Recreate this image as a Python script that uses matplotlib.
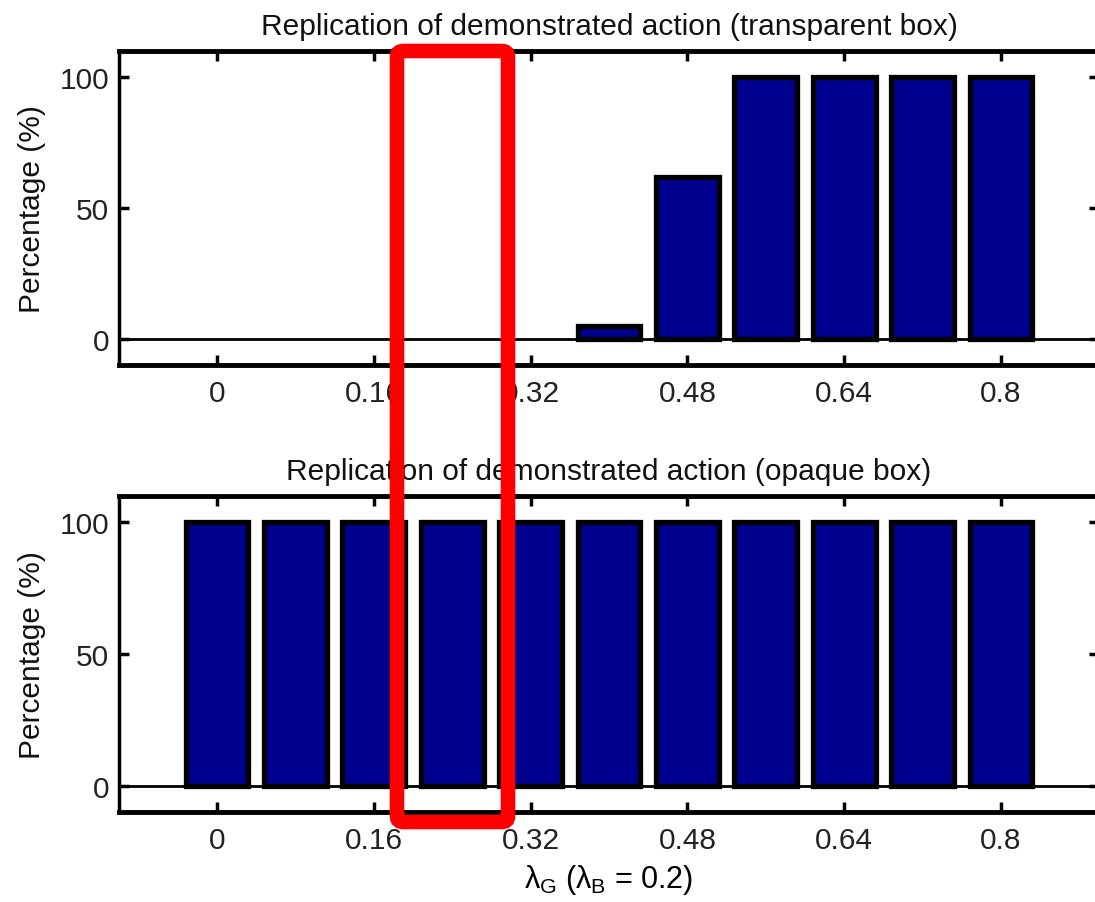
import matplotlib
matplotlib.use("Agg")
import matplotlib.pyplot as plt
from matplotlib.patches import FancyBboxPatch

plt.rcParams["font.family"] = ["Liberation Sans", "DejaVu Sans"]
plt.rcParams["mathtext.fontset"] = "custom"
plt.rcParams["mathtext.rm"] = "Liberation Sans"
plt.rcParams["mathtext.it"] = "Liberation Sans"

# lambda_G values (x axis), lambda_B fixed at 0.2
lambda_g = [0.0, 0.08, 0.16, 0.24, 0.32, 0.40, 0.48, 0.56, 0.64, 0.72, 0.80]
tick_values = [0, 0.16, 0.32, 0.48, 0.64, 0.8]
tick_labels = ["0", "0.16", "0.32", "0.48", "0.64", "0.8"]

# percentage of replication of the demonstrated action
transparent_pct = [0, 0, 0, 0, 0, 5, 62, 100, 100, 100, 100]
opaque_pct = [100, 100, 100, 100, 100, 100, 100, 100, 100, 100, 100]

titles = [
    "Replication of demonstrated action (transparent box)",
    "Replication of demonstrated action (opaque box)",
]

W, H = 1095, 903
fig = plt.figure(figsize=(W / 100, H / 100), dpi=100)

# axes boxes in pixels: left, top, right, bottom
boxes = [(119, 52, 1099, 366), (119, 497, 1099, 813)]
axes = []
for (l, t, r, b) in boxes:
    axes.append(fig.add_axes([l / W, 1 - b / H, (r - l) / W, (b - t) / H]))

for ax, vals, title in zip(axes, [transparent_pct, opaque_pct], titles):
    lw = [3.8 if v > 0 else 0 for v in vals]
    ax.bar(lambda_g, vals, width=0.064, color="#00008F",
           edgecolor="black", linewidth=lw, zorder=2)
    ax.axhline(0, color="black", lw=2, zorder=3)
    ax.set_xlim(-0.1, 0.9)
    ax.set_ylim(-10, 110)
    ax.set_xticks(tick_values)
    ax.set_xticklabels(tick_labels)
    ax.set_yticks([0, 50, 100])
    ax.tick_params(direction="in", top=True, right=True, length=7, width=2.5,
                   labelsize=21.5, labelcolor="#222222")
    ax.tick_params(axis="x", pad=10)
    ax.tick_params(axis="y", pad=7)
    for side in ["top", "bottom"]:
        ax.spines[side].set_linewidth(3.5)
    for side in ["left", "right"]:
        ax.spines[side].set_linewidth(2.5)
    ax.set_title(title, fontsize=21.5, pad=12, color="#111111")
    ax.set_ylabel("Percentage (%)", fontsize=21.5, labelpad=10, color="#111111")

axes[1].set_xlabel(r"$\lambda_G$ ($\lambda_B$ = 0.2)", fontsize=22, labelpad=6)

# red highlight box spanning both panels
rect = FancyBboxPatch((397 / W, 1 - 823 / H), (508 - 397) / W, (823 - 52) / H,
                      boxstyle="round,pad=0,rounding_size=0.006",
                      transform=fig.transFigure, fill=False,
                      edgecolor="#FF0000", linewidth=10.5, zorder=10)
fig.patches.append(rect)

fig.savefig("out.png", dpi=100)
